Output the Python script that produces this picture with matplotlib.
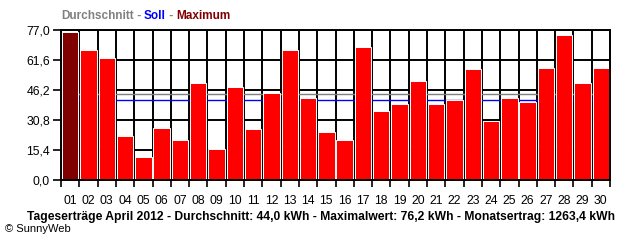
import matplotlib
matplotlib.use("Agg")
import matplotlib.pyplot as plt
import numpy as np

days = ["01","02","03","04","05","06","07","08","09","10","11","12","13","14","15",
        "16","17","18","19","20","21","22","23","24","25","26","27","28","29","30"]
values = [76.2, 66.7, 62.6, 22.7, 11.8, 26.7, 20.5, 49.8, 15.9, 47.7,
          26.0, 44.7, 66.7, 42.1, 24.6, 20.5, 68.3, 35.4, 39.0, 50.8,
          39.0, 41.1, 57.0, 30.5, 42.1, 40.0, 57.5, 74.4, 49.8, 57.5]
average = 44.0
target = 41.1
yticks = [0.0, 15.4, 30.8, 46.2, 61.6, 77.0]
ytick_labels = ["0,0", "15,4", "30,8", "46,2", "61,6", "77,0"]
legend_parts = [("Durchschnitt", "#808080"), (" - ", "#808080"), ("Soll", "#0000FF"),
                (" - ", "#808080"), ("Maximum", "#800000")]
footer = "Tageserträge April 2012 - Durchschnitt: 44,0 kWh - Maximalwert: 76,2 kWh - Monatsertrag: 1263,4 kWh"
copyright_text = "© SunnyWeb"

plt.rcParams['font.family'] = ['Liberation Sans', 'DejaVu Sans']

W, H = 640, 240
fig = plt.figure(figsize=(W/100, H/100), dpi=100)
ax = fig.add_axes([61/W, 1-180/H, 549/W, 150/H])
ax.set_axisbelow(True)

x = np.arange(len(days))
maxi = int(np.argmax(values))
colors = ["#800000" if i == maxi else "#FF0000" for i in range(len(values))]
ax.bar(x, values, width=0.90, color=colors, edgecolor='white', linewidth=0.7, zorder=3)

ax.axhline(average, color="#808080", lw=1.0, zorder=2)
ax.axhline(target, color="#0000FF", lw=1.0, zorder=2)

ax.set_xlim(-0.5, len(days) - 0.5)
ax.set_ylim(0, 77.0)

ax.set_xticks(x)
ax.set_xticklabels(days, fontsize=8.8)
ax.set_xticks(np.arange(-0.5, len(days)), minor=True)
ax.tick_params(axis='x', which='major', length=0, pad=11)
ax.tick_params(axis='x', which='minor', length=5, width=1.2, color='black')
ax.set_yticks(yticks)
ax.set_yticklabels(ytick_labels, fontsize=8.8)
ax.tick_params(axis='y', length=6, width=1.2, pad=2)

ax.grid(True, axis='x', which='minor', color='black', lw=1.4)
ax.grid(True, axis='y', which='major', color='black', lw=1.4)
for s in ax.spines.values():
    s.set_linewidth(1.4)
    s.set_zorder(4)

# colored legend title
fig.canvas.draw()
r = fig.canvas.get_renderer()
xpos = 61 / W
for txt, col in legend_parts:
    t = fig.text(xpos, 1 - 16/H, txt, color=col, fontsize=8.5, fontweight='bold',
                 va='center', ha='left')
    bb = t.get_window_extent(renderer=r)
    xpos += bb.width / W

fig.text(321/W, 1 - 217/H, footer, fontsize=8.7, fontweight='bold', ha='center', va='center')
fig.text(5/W, 1 - 229/H, copyright_text, fontsize=8, ha='left', va='center')

fig.savefig("out.png", dpi=100)
